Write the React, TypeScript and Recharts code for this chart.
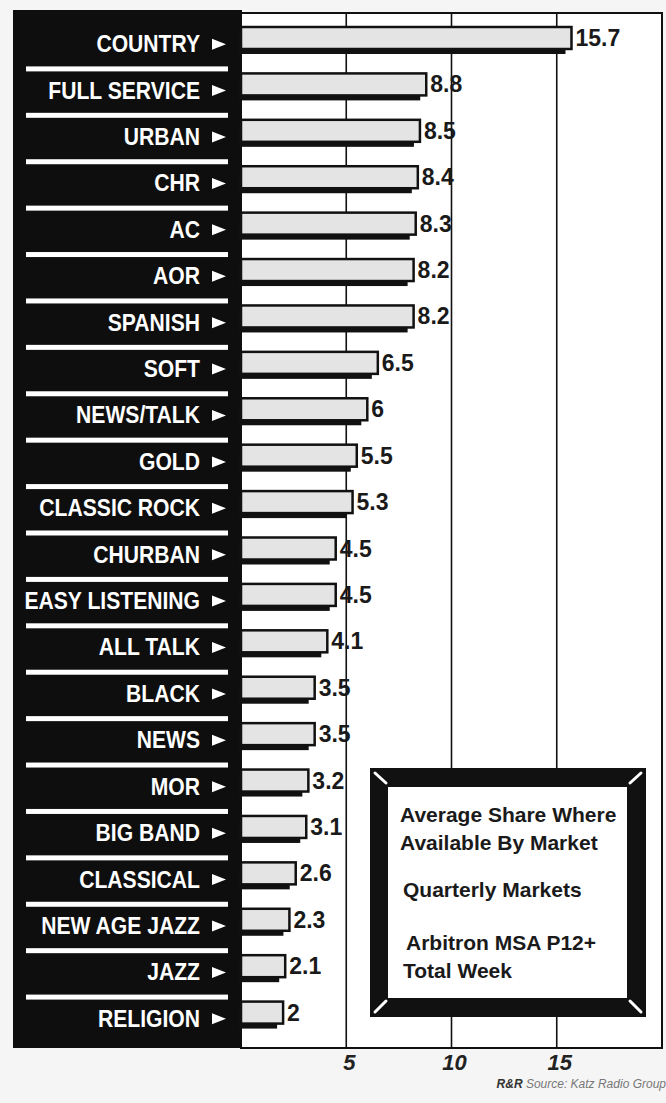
import React from "react";
import { Bar, BarChart, CartesianGrid, LabelList, XAxis, YAxis } from "recharts";

const formats = [
  "COUNTRY", "FULL SERVICE", "URBAN", "CHR", "AC", "AOR", "SPANISH", "SOFT",
  "NEWS/TALK", "GOLD", "CLASSIC ROCK", "CHURBAN", "EASY LISTENING", "ALL TALK",
  "BLACK", "NEWS", "MOR", "BIG BAND", "CLASSICAL", "NEW AGE JAZZ", "JAZZ", "RELIGION",
];
const shares = [15.7, 8.8, 8.5, 8.4, 8.3, 8.2, 8.2, 6.5, 6, 5.5, 5.3, 4.5, 4.5, 4.1, 3.5, 3.5, 3.2, 3.1, 2.6, 2.3, 2.1, 2];
const xTicks = [5, 10, 15];
const noteLines = ["Average Share Where", "Available By Market", "Quarterly Markets", "Arbitron MSA P12+", "Total Week"];

const data = formats.map((name, i) => ({ name, value: shares[i] }));

const FONT = "'Liberation Sans', Arial, Helvetica, sans-serif";
const HALF_BAND = 23.2;

function FormatTick(props: any) {
  const { x, y, payload, index } = props;
  const last = index === formats.length - 1;
  return (
    <g>
      <g transform={`translate(${x - 41},${y + 6}) scale(0.88,1)`}>
        <text textAnchor="end" dominantBaseline="central" fill="#fff" fontSize={24} fontWeight={700} fontFamily={FONT}>
          {payload.value}
        </text>
      </g>
      <polygon points={`${x - 29},${y + 0.5} ${x - 15},${y + 6} ${x - 29},${y + 11.5}`} fill="#fff" />
      {!last && <rect x={x - 215} y={y + HALF_BAND + 5} width={202} height={5} fill="#fff" />}
    </g>
  );
}

function ShareTick(props: any) {
  const { x, y, payload } = props;
  return (
    <text x={x + 3} y={y + 22} textAnchor="middle" fill="#222" fontSize={22} fontWeight={700} fontStyle="italic" fontFamily={FONT}>
      {payload.value}
    </text>
  );
}

function ShadowBar(props: any) {
  const { x, y, width, height } = props;
  return (
    <g>
      <rect x={x - 2} y={y + 5} width={Math.max(width - 4, 0)} height={height} fill="#111" />
      <rect x={x} y={y} width={width} height={height} fill="#e4e4e4" stroke="#111" strokeWidth={2.5} />
    </g>
  );
}

function ValueLabel(props: any) {
  const vb = props.viewBox || {};
  const x = props.x ?? vb.x;
  const y = props.y ?? vb.y;
  const width = props.width ?? vb.width;
  const height = props.height ?? vb.height;
  return (
    <text x={x + width + 4} y={y + height / 2} dominantBaseline="central" fill="#1a1a1a" fontSize={23} fontWeight={700} fontFamily={FONT}>
      {String(props.value)}
    </text>
  );
}

export default function App() {
  return (
    <div style={{ position: "absolute", left: 0, top: 0, width: 666, height: 1103, background: "#f5f5f5", overflow: "hidden" }}>
      <svg width={666} height={1103} style={{ position: "absolute", left: 0, top: 0 }}>
        <rect x={241} y={13} width={421} height={1035} fill="#fff" stroke="#111" strokeWidth={2} />
        <rect x={13} y={10} width={229} height={1038} fill="#0e0e0e" />
      </svg>
      <div style={{ position: "absolute", left: 0, top: 0 }}>
        <BarChart
          width={666}
          height={1103}
          data={data}
          layout="vertical"
          margin={{ top: 13, right: 4, bottom: 15, left: 0 }}
          barSize={22}
        >
          <CartesianGrid horizontal={false} stroke="#111" strokeWidth={1.6} />
          <XAxis
            type="number"
            domain={[0, 20]}
            ticks={xTicks}
            axisLine={false}
            tickLine={false}
            tickSize={0}
            tickMargin={0}
            height={40}
            tick={<ShareTick />}
          />
          <YAxis
            type="category"
            dataKey="name"
            width={241}
            axisLine={false}
            tickLine={false}
            tickSize={0}
            tickMargin={0}
            padding={{ top: 2, bottom: 12 }}
            interval={0}
            tick={<FormatTick />}
          />
          <Bar dataKey="value" isAnimationActive={false} shape={<ShadowBar />}>
            <LabelList dataKey="value" content={<ValueLabel />} />
          </Bar>
        </BarChart>
      </div>
      <svg width={666} height={1103} style={{ position: "absolute", left: 0, top: 0 }}>
        <rect x={370} y={768} width={276} height={249} fill="#111" />
        <rect x={388} y={787} width={239} height={211} fill="#fff" />
        <g stroke="#fff" strokeWidth={3} strokeLinecap="round">
          <line x1={375} y1={773} x2={386} y2={783} />
          <line x1={641} y1={773} x2={630} y2={783} />
          <line x1={375} y1={1012} x2={386} y2={1001} />
          <line x1={641} y1={1012} x2={630} y2={1001} />
        </g>
        <g fill="#1a1a1a" fontSize={21} fontWeight={700} fontFamily={FONT}>
          <text x={400} y={822}>{noteLines[0]}</text>
          <text x={400} y={850}>{noteLines[1]}</text>
          <text x={403} y={897}>{noteLines[2]}</text>
          <text x={406} y={950}>{noteLines[3]}</text>
          <text x={403} y={978}>{noteLines[4]}</text>
        </g>
        <text x={666} y={1088} textAnchor="end" fontSize={12} fontStyle="italic" fontFamily={FONT}>
          <tspan fill="#333" fontWeight={700}>R&amp;R</tspan>
          <tspan fill="#777"> Source: Katz Radio Group</tspan>
        </text>
      </svg>
    </div>
  );
}
